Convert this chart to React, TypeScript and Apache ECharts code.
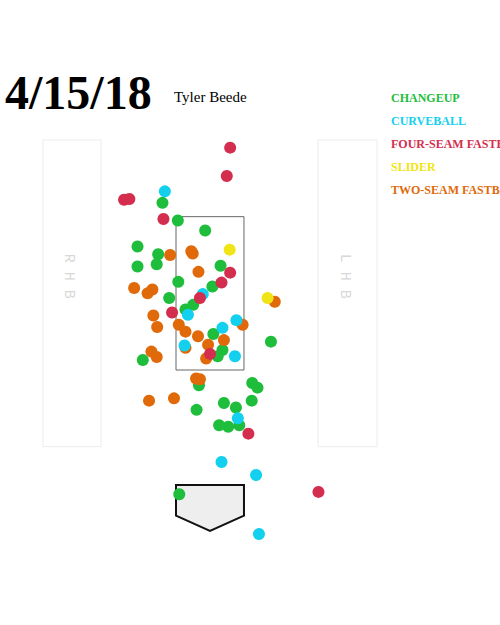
import React, { useEffect, useRef } from "react";
import * as echarts from "echarts";

// ---- text ----
const TITLE = "4/15/18";
const PITCHER = "Tyler Beede";

// ---- pitch types & colours ----
const PITCH_TYPES = ["CHANGEUP", "CURVEBALL", "FOUR-SEAM FASTBALL", "SLIDER", "TWO-SEAM FASTBALL"];
const PITCH_COLORS = ["#1ebe3c", "#12d0ee", "#d42e4e", "#f0e416", "#e06a0a"];

// ---- pitch locations [horizontal ft from plate centre, height ft] ----
const CHANGEUP = [
  [-0.99, 3.68], [-0.67, 3.45], [-0.10, 3.32], [-1.51, 3.11], [-1.08, 3.01],
  [-1.11, 2.88], [-1.51, 2.85], [0.22, 2.86], [-0.66, 2.65], [0.05, 2.59],
  [-0.85, 2.44], [-0.35, 2.35], [-0.51, 2.29], [0.07, 1.97], [0.26, 1.76],
  [0.16, 1.68], [-1.40, 1.63], [1.27, 1.87], [-0.23, 1.30], [0.88, 1.33],
  [0.99, 1.27], [0.87, 1.10], [0.29, 1.07], [0.54, 1.01], [-0.28, 0.98],
  [0.19, 0.78], [0.38, 0.76], [0.61, 0.78], [-0.64, -0.12],
];
const CURVEBALL = [
  [-0.94, 3.83], [-0.15, 2.49], [-0.46, 2.22], [0.55, 2.15], [0.26, 2.05],
  [-0.53, 1.82], [0.52, 1.68], [0.58, 0.87], [0.24, 0.30], [0.96, 0.13],
  [1.02, -0.64],
];
const FOUR_SEAM = [
  [0.42, 4.40], [0.35, 4.03], [-1.79, 3.72], [-1.68, 3.73], [-0.97, 3.47],
  [0.42, 2.77], [0.24, 2.64], [-0.21, 2.44], [-0.79, 2.25], [0.00, 1.71],
  [0.80, 0.67], [2.26, -0.09],
];
const SLIDER = [
  [0.41, 3.07], [1.20, 2.44],
];
const TWO_SEAM = [
  [-0.83, 3.00], [-0.39, 3.05], [-0.36, 3.02], [-0.24, 2.78], [-1.58, 2.57],
  [-1.20, 2.55], [-1.30, 2.50], [1.35, 2.39], [-1.18, 2.21], [-0.65, 2.09],
  [0.68, 2.09], [-1.10, 2.06], [-0.51, 2.00], [-0.25, 1.94], [0.29, 1.89],
  [-0.51, 1.79], [-0.04, 1.83], [-0.08, 1.65], [-1.22, 1.74], [-1.11, 1.67],
  [-0.29, 1.39], [-0.21, 1.38], [-1.27, 1.10], [-0.75, 1.13],
];

// ---- field geometry (ft) ----
const STRIKE_ZONE = [[-0.708, 1.5, 0.708, 3.5]];
const BATTER_BOXES = [[-3.48, 0.5, -2.27, 4.5], [2.25, 0.5, 3.48, 4.5]];
const BOX_LABELS = ["R H B", "L H B"];
const HOME_PLATE = [[-0.708, 0], [0.708, 0], [0.708, -0.4], [0, -0.6], [-0.708, -0.4]];
const X_RANGE = [-4.375, 6.042];
const Y_RANGE = [-1.826, 6.326];

const SERIF = "'Times New Roman', 'Liberation Serif', serif";
const MONO = "'Courier New', 'Liberation Mono', monospace";

function rectFrom(api: any, v: number[]) {
  const p0 = api.coord([v[0], v[3]]);
  const p1 = api.coord([v[2], v[1]]);
  return { x: p0[0], y: p0[1], width: p1[0] - p0[0], height: p1[1] - p0[1] };
}

export default function App() {
  const ref = useRef<HTMLDivElement>(null);

  useEffect(() => {
    if (!ref.current) return;
    const chart = echarts.init(ref.current, undefined, { renderer: "svg" });

    const pitchData: Record<string, number[][]> = {
      "CHANGEUP": CHANGEUP,
      "CURVEBALL": CURVEBALL,
      "FOUR-SEAM FASTBALL": FOUR_SEAM,
      "SLIDER": SLIDER,
      "TWO-SEAM FASTBALL": TWO_SEAM,
    };
    // drawing order (bottom to top)
    const drawOrder = ["CHANGEUP", "TWO-SEAM FASTBALL", "CURVEBALL", "SLIDER", "FOUR-SEAM FASTBALL"];

    const scatterSeries = drawOrder.map((name) => ({
      type: "scatter",
      name,
      data: pitchData[name],
      symbol: "circle",
      symbolSize: 12,
      z: 5,
      itemStyle: { color: PITCH_COLORS[PITCH_TYPES.indexOf(name)], opacity: 1 },
      emphasis: { disabled: true },
    }));

    chart.setOption({
      animation: false,
      backgroundColor: "#ffffff",
      title: [
        {
          text: TITLE,
          left: 5,
          top: 68,
          padding: 0,
          textStyle: { fontFamily: SERIF, fontWeight: "bold", fontSize: 48, color: "#000" },
        },
        {
          text: PITCHER,
          left: 174,
          top: 89,
          padding: 0,
          textStyle: { fontFamily: SERIF, fontWeight: "normal", fontSize: 15, color: "#000" },
        },
      ],
      legend: {
        orient: "vertical",
        left: 386,
        top: 92,
        padding: 0,
        itemWidth: 0,
        itemHeight: 12,
        itemGap: 11,
        icon: "none",
        selectedMode: false,
        data: PITCH_TYPES.map((name, i) => ({
          name,
          textStyle: { color: PITCH_COLORS[i] },
        })),
        textStyle: { fontFamily: SERIF, fontWeight: "bold", fontSize: 12 },
      },
      grid: { left: 0, right: 0, top: 0, bottom: 0, containLabel: false },
      xAxis: { type: "value", min: X_RANGE[0], max: X_RANGE[1], show: false, splitLine: { show: false } },
      yAxis: { type: "value", min: Y_RANGE[0], max: Y_RANGE[1], show: false, splitLine: { show: false } },
      series: [
        {
          type: "custom",
          name: "boxes",
          z: 1,
          silent: true,
          data: BATTER_BOXES,
          renderItem: (params: any, api: any) => {
            const v = BATTER_BOXES[params.dataIndex];
            const r = rectFrom(api, v);
            return {
              type: "group",
              children: [
                {
                  type: "rect",
                  shape: r,
                  style: { fill: "#ffffff", stroke: "#ececec", lineWidth: 1 },
                },
                {
                  type: "text",
                  x: r.x + r.width / 2 - 3,
                  y: r.y + r.height / 2 - 17,
                  rotation: -Math.PI / 2,
                  style: {
                    text: BOX_LABELS[params.dataIndex],
                    fill: "#d8d8d8",
                    fontFamily: MONO,
                    fontSize: 15,
                    align: "center",
                    verticalAlign: "middle",
                  },
                },
              ],
            };
          },
        },
        {
          type: "custom",
          name: "zone",
          z: 2,
          silent: true,
          data: STRIKE_ZONE,
          renderItem: (params: any, api: any) => {
            const r = rectFrom(api, STRIKE_ZONE[params.dataIndex]);
            return {
              type: "rect",
              shape: r,
              style: { fill: "none", stroke: "#666666", lineWidth: 1 },
            };
          },
        },
        {
          type: "custom",
          name: "plate",
          z: 2,
          silent: true,
          data: [[0, 0]],
          renderItem: (_params: any, api: any) => {
            const pts = HOME_PLATE.map((p) => api.coord(p));
            return {
              type: "polygon",
              shape: { points: pts },
              style: { fill: "#eeeeee", stroke: "#111111", lineWidth: 2, lineJoin: "miter" },
            };
          },
        },
        ...scatterSeries,
      ],
    });

    return () => chart.dispose();
  }, []);

  return (
    <div
      ref={ref}
      style={{ position: "fixed", left: 0, top: 0, width: 500, height: 625, background: "#fff" }}
    />
  );
}
